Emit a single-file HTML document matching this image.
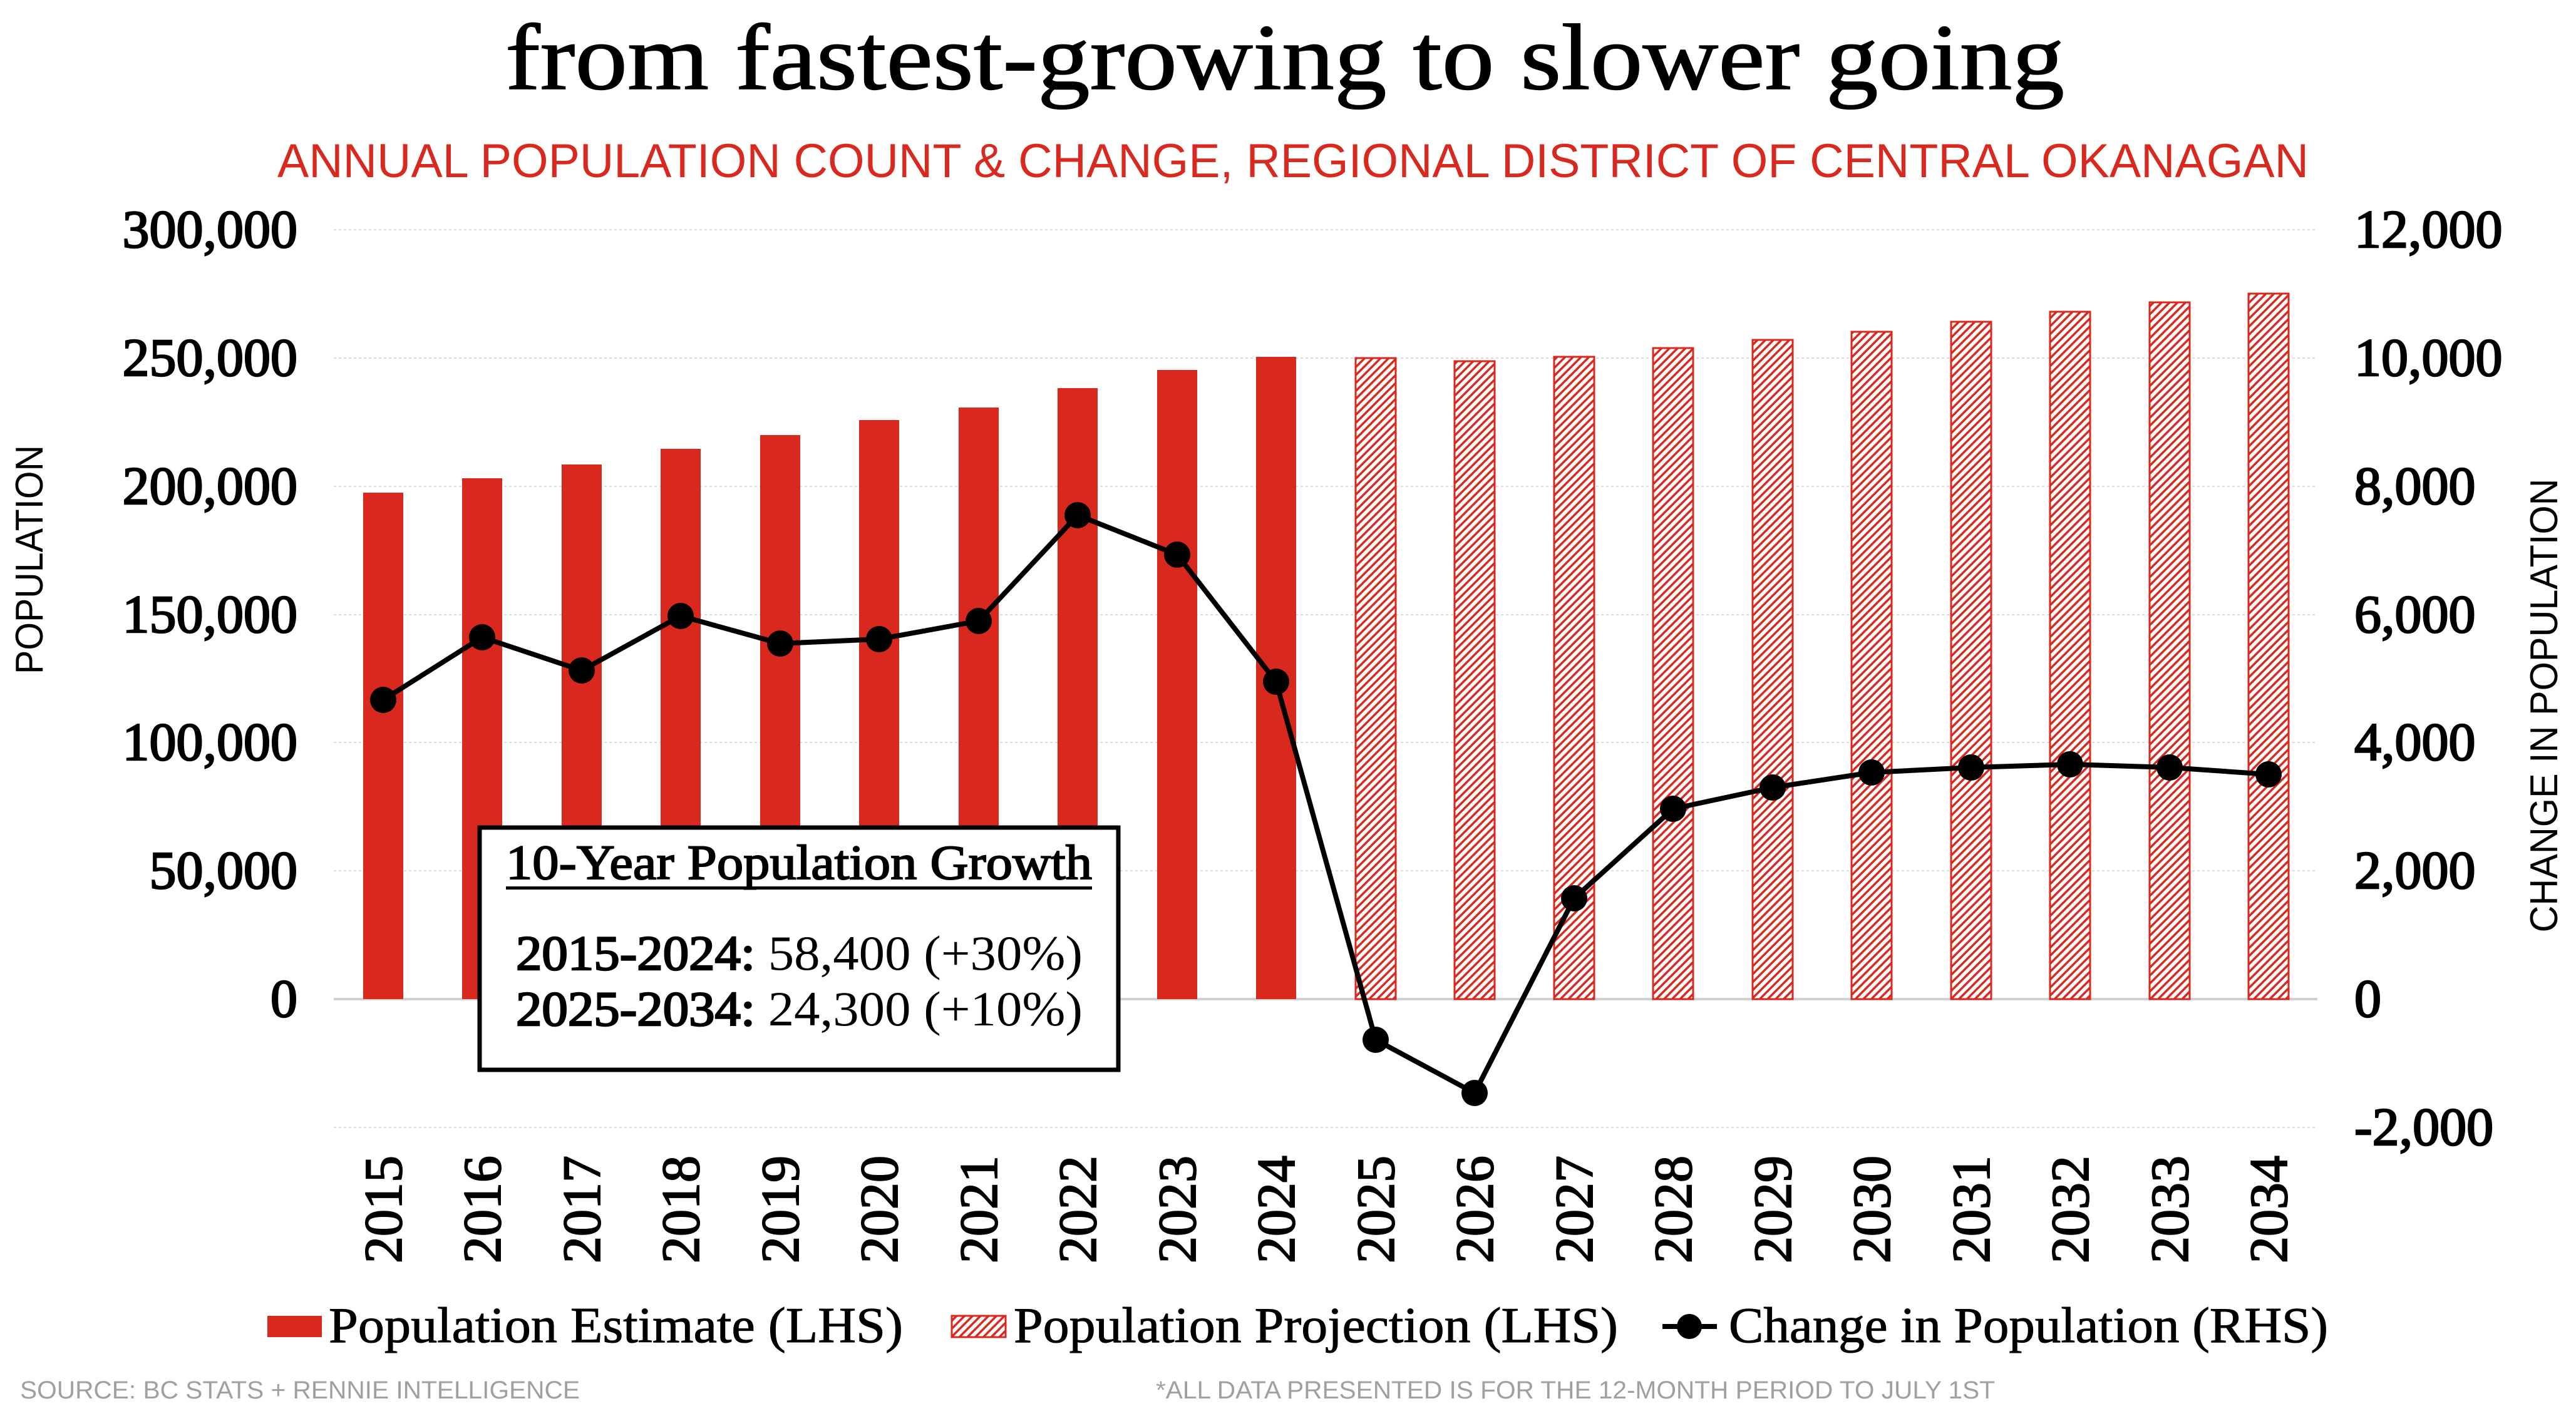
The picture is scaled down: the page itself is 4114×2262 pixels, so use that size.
<!DOCTYPE html>
<html><head><meta charset="utf-8"><style>html,body{margin:0;padding:0;background:#fff}svg{display:block}</style></head>
<body>
<svg xmlns="http://www.w3.org/2000/svg" width="4114" height="2262" viewBox="0 0 4114 2262">
<defs>
<pattern id="h" patternUnits="userSpaceOnUse" width="9" height="9" patternTransform="rotate(-45)">
<rect width="9" height="9" fill="#fff"/><rect width="9" height="3.5" fill="#d9291e"/>
</pattern>
</defs>
<rect width="4114" height="2262" fill="#fff"/>
<text x="2052" y="142" font-family="Liberation Serif, serif" font-size="150" text-anchor="middle" textLength="2490" lengthAdjust="spacingAndGlyphs" fill="#000" stroke="#000" stroke-width="1.5">from fastest-growing to slower going</text>
<text x="2065" y="283" font-family="Liberation Sans, sans-serif" font-size="76" text-anchor="middle" textLength="3244" lengthAdjust="spacingAndGlyphs" fill="#d9291e">ANNUAL POPULATION COUNT &amp; CHANGE, REGIONAL DISTRICT OF CENTRAL OKANAGAN</text>
<g stroke="#dcdcdc" stroke-width="2" stroke-dasharray="4 4">
<line x1="533" x2="3701" y1="367" y2="367"/><line x1="533" x2="3701" y1="572" y2="572"/><line x1="533" x2="3701" y1="777" y2="777"/><line x1="533" x2="3701" y1="982" y2="982"/><line x1="533" x2="3701" y1="1186" y2="1186"/><line x1="533" x2="3701" y1="1391" y2="1391"/><line x1="533" x2="3701" y1="1801" y2="1801"/>
</g>
<line x1="533" x2="3701" y1="1596" y2="1596" stroke="#d0d0d0" stroke-width="4"/>
<g font-family="Liberation Serif, serif" font-size="86" fill="#000" stroke="#000" stroke-width="2.5" text-anchor="end">
<text x="475" y="395">300,000</text><text x="475" y="600">250,000</text><text x="475" y="805">200,000</text><text x="475" y="1010">150,000</text><text x="475" y="1214">100,000</text><text x="475" y="1419">50,000</text><text x="475" y="1624">0</text>
</g>
<g font-family="Liberation Serif, serif" font-size="86" fill="#000" stroke="#000" stroke-width="2.5">
<text x="3760" y="395">12,000</text><text x="3760" y="600">10,000</text><text x="3760" y="805">8,000</text><text x="3760" y="1010">6,000</text><text x="3760" y="1214">4,000</text><text x="3760" y="1419">2,000</text><text x="3760" y="1624">0</text><text x="3760" y="1829">-2,000</text>
</g>
<text transform="translate(68,894) rotate(-90)" font-family="Liberation Sans, sans-serif" font-size="62" text-anchor="middle" textLength="366" lengthAdjust="spacingAndGlyphs">POPULATION</text>
<text transform="translate(4084,1127) rotate(-90)" font-family="Liberation Sans, sans-serif" font-size="62" text-anchor="middle" textLength="725" lengthAdjust="spacingAndGlyphs">CHANGE IN POPULATION</text>
<g fill="#d9291e">
<rect x="580" y="787" width="64" height="809"/><rect x="738" y="764" width="64" height="832"/><rect x="897" y="742" width="64" height="854"/><rect x="1055" y="717" width="64" height="879"/><rect x="1214" y="695" width="64" height="901"/><rect x="1372" y="671" width="64" height="925"/><rect x="1531" y="651" width="64" height="945"/><rect x="1689" y="620" width="64" height="976"/><rect x="1848" y="591" width="64" height="1005"/><rect x="2006" y="570" width="64" height="1026"/>
</g>
<g fill="url(#h)" stroke="#d9291e" stroke-width="3">
<rect x="2165" y="572" width="64" height="1024"/><rect x="2323" y="577" width="64" height="1019"/><rect x="2482" y="570" width="64" height="1026"/><rect x="2640" y="556" width="64" height="1040"/><rect x="2799" y="543" width="64" height="1053"/><rect x="2957" y="530" width="64" height="1066"/><rect x="3116" y="514" width="64" height="1082"/><rect x="3274" y="498" width="64" height="1098"/><rect x="3433" y="483" width="64" height="1113"/><rect x="3591" y="469" width="64" height="1127"/>
</g>
<polyline fill="none" stroke="#000" stroke-width="8" stroke-linejoin="round" points="612,1118 770,1018 929,1071 1087,984 1246,1028 1404,1021 1563,992 1721,823 1880,886 2038,1089 2197,1661 2355,1746 2514,1435 2672,1292 2831,1258 2989,1234 3148,1226 3306,1221 3465,1226 3623,1237"/>
<g fill="#000">
<circle cx="612" cy="1118" r="21"/><circle cx="770" cy="1018" r="21"/><circle cx="929" cy="1071" r="21"/><circle cx="1087" cy="984" r="21"/><circle cx="1246" cy="1028" r="21"/><circle cx="1404" cy="1021" r="21"/><circle cx="1563" cy="992" r="21"/><circle cx="1721" cy="823" r="21"/><circle cx="1880" cy="886" r="21"/><circle cx="2038" cy="1089" r="21"/><circle cx="2197" cy="1661" r="21"/><circle cx="2355" cy="1746" r="21"/><circle cx="2514" cy="1435" r="21"/><circle cx="2672" cy="1292" r="21"/><circle cx="2831" cy="1258" r="21"/><circle cx="2989" cy="1234" r="21"/><circle cx="3148" cy="1226" r="21"/><circle cx="3306" cy="1221" r="21"/><circle cx="3465" cy="1226" r="21"/><circle cx="3623" cy="1237" r="21"/>
</g>
<rect x="766" y="1322" width="1020" height="387" fill="#fff" stroke="#000" stroke-width="7"/>
<text x="808" y="1404" font-family="Liberation Serif, serif" font-size="78" stroke="#000" stroke-width="2" textLength="936" lengthAdjust="spacingAndGlyphs">10-Year Population Growth</text>
<rect x="808" y="1416" width="936" height="5" fill="#000"/>
<text x="824" y="1549" font-family="Liberation Serif, serif" font-size="78" textLength="905" lengthAdjust="spacingAndGlyphs"><tspan stroke="#000" stroke-width="2.5">2015-2024:</tspan> 58,400 (+30%)</text>
<text x="824" y="1638" font-family="Liberation Serif, serif" font-size="78" textLength="905" lengthAdjust="spacingAndGlyphs"><tspan stroke="#000" stroke-width="2.5">2025-2034:</tspan> 24,300 (+10%)</text>
<g font-family="Liberation Serif, serif" font-size="86" stroke="#000" stroke-width="2" text-anchor="end">
<text transform="translate(641,1846) rotate(-90)">2015</text><text transform="translate(799,1846) rotate(-90)">2016</text><text transform="translate(958,1846) rotate(-90)">2017</text><text transform="translate(1116,1846) rotate(-90)">2018</text><text transform="translate(1275,1846) rotate(-90)">2019</text><text transform="translate(1433,1846) rotate(-90)">2020</text><text transform="translate(1592,1846) rotate(-90)">2021</text><text transform="translate(1750,1846) rotate(-90)">2022</text><text transform="translate(1909,1846) rotate(-90)">2023</text><text transform="translate(2067,1846) rotate(-90)">2024</text><text transform="translate(2226,1846) rotate(-90)">2025</text><text transform="translate(2384,1846) rotate(-90)">2026</text><text transform="translate(2543,1846) rotate(-90)">2027</text><text transform="translate(2701,1846) rotate(-90)">2028</text><text transform="translate(2860,1846) rotate(-90)">2029</text><text transform="translate(3018,1846) rotate(-90)">2030</text><text transform="translate(3177,1846) rotate(-90)">2031</text><text transform="translate(3335,1846) rotate(-90)">2032</text><text transform="translate(3494,1846) rotate(-90)">2033</text><text transform="translate(3652,1846) rotate(-90)">2034</text>
</g>
<rect x="427" y="2102" width="87" height="34" fill="#d9291e"/>
<rect x="1520" y="2102" width="86" height="34" fill="url(#h)" stroke="#d9291e" stroke-width="3"/>
<line x1="2655" x2="2742" y1="2119" y2="2119" stroke="#000" stroke-width="8"/>
<circle cx="2698" cy="2119" r="20" fill="#000"/>
<g font-family="Liberation Serif, serif" font-size="80" stroke="#000" stroke-width="1">
<text x="525" y="2144" textLength="917" lengthAdjust="spacingAndGlyphs">Population Estimate (LHS)</text>
<text x="1619" y="2144" textLength="965" lengthAdjust="spacingAndGlyphs">Population Projection (LHS)</text>
<text x="2761" y="2144" textLength="957" lengthAdjust="spacingAndGlyphs">Change in Population (RHS)</text>
</g>
<g font-family="Liberation Sans, sans-serif" font-size="40" fill="#a0a0a0">
<text x="32" y="2234" textLength="894" lengthAdjust="spacingAndGlyphs">SOURCE: BC STATS + RENNIE INTELLIGENCE</text>
<text x="1846" y="2234" textLength="1340" lengthAdjust="spacingAndGlyphs">*ALL DATA PRESENTED IS FOR THE 12-MONTH PERIOD TO JULY 1ST</text>
</g>
</svg>
</body></html>
